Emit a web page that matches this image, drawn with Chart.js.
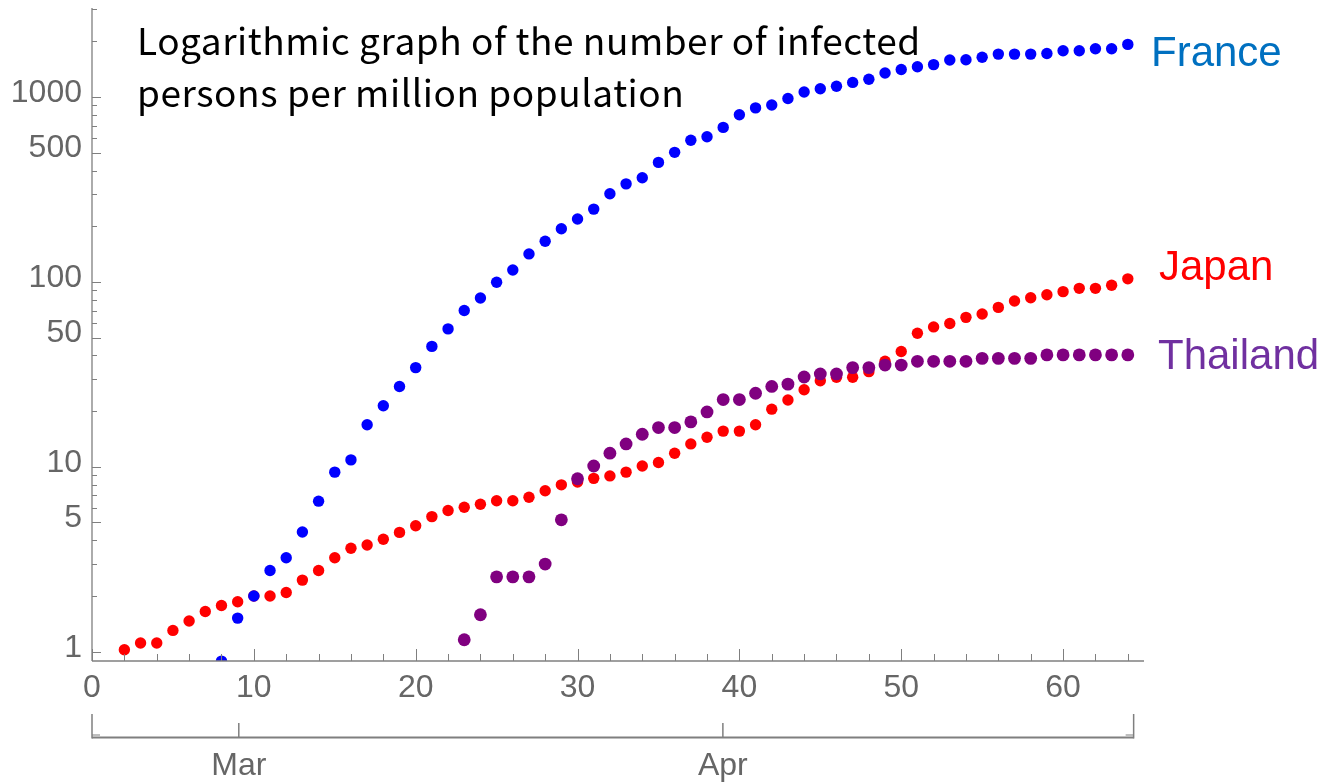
<!DOCTYPE html>
<html>
<head>
<meta charset="utf-8">
<script src="https://cdn.jsdelivr.net/npm/chart.js@4.4.1/dist/chart.umd.min.js"></script>
<style>
html,body{margin:0;padding:0;background:#ffffff;}
#wrap{position:relative;width:1328px;height:782px;}
</style>
</head>
<body>
<div id="wrap"><canvas id="c" width="1328" height="782"></canvas></div>
<script>
// ---------- data ----------
const titleLines = ["Logarithmic graph of the number of infected", "persons per million population"];
const seriesNames = ["France", "Japan", "Thailand"];

const franceStartDay = 8;
const franceValues = [0.89, 1.52, 2.0, 2.75, 3.22, 4.44, 6.52, 9.36, 10.9, 16.9,
  21.4, 27.2, 34.4, 44.8, 55.7, 70.0, 81.9, 99.6, 116, 141.7,
  166, 193.7, 219, 247.6, 300, 339, 366, 443, 502, 584,
  610, 685, 801, 873, 906, 982, 1065, 1109, 1143, 1199,
  1247, 1348, 1408, 1458, 1497, 1585, 1590, 1640, 1706, 1706,
  1706, 1720, 1778, 1778, 1823, 1823, 1925];

const japanStartDay = 2;
const japanValues = [1.025, 1.114, 1.114, 1.304, 1.465, 1.65, 1.78, 1.864, 2.0, 2.0,
  2.09, 2.44, 2.75, 3.22, 3.63, 3.78, 4.06, 4.42, 4.8, 5.38,
  5.8, 6.05, 6.28, 6.56, 6.56, 6.85, 7.43, 7.99, 8.27, 8.66,
  8.93, 9.36, 10.1, 10.55, 11.85, 13.3, 14.45, 15.6, 15.6, 16.9,
  20.5, 23.0, 26.1, 29.2, 30.5, 30.5, 32.7, 37.2, 42.0, 52.8,
  57.1, 59.6, 64.3, 67.1, 72.8, 78.9, 82.1, 85.3, 88.6, 92.3,
  92.3, 96.0, 103.9];

const thailandStartDay = 23;
const thailandValues = [1.161, 1.585, 2.54, 2.54, 2.54, 2.98, 5.17, 8.62, 10.1, 11.85,
  13.3, 15.0, 16.3, 16.3, 17.5, 19.8, 23.1, 23.1, 25.0, 27.2,
  28.0, 30.6, 31.8, 31.8, 34.4, 34.4, 35.5, 35.5, 37.2, 37.2,
  37.2, 37.2, 38.6, 38.6, 38.6, 38.6, 40.3, 40.3, 40.3, 40.3,
  40.3, 40.3];

const xTickValues = [0, 2, 4, 6, 8, 10, 12, 14, 16, 18, 20, 22, 24, 26, 28, 30, 32, 34, 36, 38,
  40, 42, 44, 46, 48, 50, 52, 54, 56, 58, 60, 62, 64];
const xTickLabels = [0, 10, 20, 30, 40, 50, 60];
const yTickValues = [1, 2, 3, 4, 5, 6, 7, 8, 9, 10, 20, 30, 40, 50, 60, 70, 80, 90,
  100, 200, 300, 400, 500, 600, 700, 800, 900, 1000, 2000, 3000];
const yTickLabels = [1, 5, 10, 50, 100, 500, 1000];
const dateTickDays = [9.07, 38.98];
const dateTickLabels = ["Mar", "Apr"];
const dateAxisRange = [0, 64.36];

const xRange = [0, 65];
const yRange = [0.891, 3029];

// ---------- build ----------
function toPoints(start, values) {
  return values.map((v, i) => ({ x: start + i, y: v }));
}

const GREY = '#7f7f7f';
const TICKFONT = '"Liberation Sans", Arial, sans-serif';

const decorPlugin = {
  id: 'decor',
  afterDatasetsDraw(chart) {
    const ctx = chart.ctx;
    const a = chart.chartArea;
    const xs = chart.scales.x, ys = chart.scales.y;
    const line = (x1, y1, x2, y2) => { ctx.beginPath(); ctx.moveTo(x1, y1); ctx.lineTo(x2, y2); ctx.stroke(); };
    ctx.save();
    ctx.strokeStyle = GREY;
    ctx.lineWidth = 1.3;
    // main axes
    line(a.left, a.top, a.left, a.bottom);
    line(a.left, a.bottom, a.right, a.bottom);
    ctx.lineWidth = 1;
    yTickValues.forEach(v => {
      const py = Math.round(ys.getPixelForValue(v)) + 0.5;
      const len = yTickLabels.includes(v) ? 9 : 5;
      line(a.left, py, a.left + len, py);
    });
    xTickValues.forEach(v => {
      const px = Math.round(xs.getPixelForValue(v)) + 0.5;
      const len = (v % 10 === 0) ? 12 : 7;
      line(px, a.bottom, px, a.bottom - len);
    });
    // date axis
    const dy = 737.5;
    const dl = xs.getPixelForValue(dateAxisRange[0]);
    const dr = xs.getPixelForValue(dateAxisRange[1]);
    ctx.lineWidth = 2;
    line(dl, dy, dr, dy);
    ctx.lineWidth = 1.5;
    line(dl, 714, dl, dy + 1);
    line(dr, 714, dr, dy + 1);
    ctx.lineWidth = 1;
    line(dl, 735, dl + 8, 735);
    line(dr - 8, 735, dr, 735);
    ctx.lineWidth = 1.5;
    ctx.fillStyle = '#666666';
    ctx.font = '32px ' + TICKFONT;
    ctx.textAlign = 'center';
    ctx.textBaseline = 'alphabetic';
    dateTickDays.forEach((d, i) => {
      const px = xs.getPixelForValue(d);
      line(px, 723, px, dy);
      ctx.fillText(dateTickLabels[i], px, 775);
    });
    ctx.restore();
  },
  afterDraw(chart) {
    const ctx = chart.ctx;
    ctx.save();
    // title
    ctx.fillStyle = '#000000';
    ctx.textAlign = 'left';
    ctx.textBaseline = 'alphabetic';
    ctx.font = '37px "Noto Sans CJK JP", "Noto Sans", sans-serif';
    const w = ctx.measureText(titleLines[0]).width;
    const target = 783;
    const ls = (target - w) / (titleLines[0].length - 1);
    try { ctx.letterSpacing = ls.toFixed(2) + 'px'; } catch (e) {}
    ctx.fillText(titleLines[0], 137, 55);
    ctx.fillText(titleLines[1], 137, 107);
    try { ctx.letterSpacing = '0px'; } catch (e) {}
    // series labels
    ctx.font = '42px ' + TICKFONT;
    ctx.fillStyle = '#0070C0';
    ctx.fillText(seriesNames[0], 1151, 66);
    ctx.fillStyle = '#FF0000';
    ctx.fillText(seriesNames[1], 1159, 280);
    ctx.fillStyle = '#7030A0';
    ctx.fillText(seriesNames[2], 1158, 369);
    ctx.restore();
  }
};

const chart = new Chart(document.getElementById('c'), {
  type: 'scatter',
  data: {
    datasets: [
      { label: seriesNames[0], data: toPoints(franceStartDay, franceValues), backgroundColor: '#0000FF',
        pointRadius: 5.7, pointBorderWidth: 0, clip: 0 },
      { label: seriesNames[2], data: toPoints(thailandStartDay, thailandValues), backgroundColor: '#800080',
        pointRadius: 6.4, pointBorderWidth: 0, clip: 0 },
      { label: seriesNames[1], data: toPoints(japanStartDay, japanValues), backgroundColor: '#FF0000',
        pointRadius: 5.7, pointBorderWidth: 0, clip: 0 }
    ]
  },
  options: {
    responsive: false,
    animation: false,
    events: [],
    layout: { padding: { left: 0, top: 8, right: 184, bottom: 0 } },
    plugins: { legend: { display: false }, tooltip: { enabled: false }, title: { display: false } },
    scales: {
      x: {
        type: 'linear', position: 'bottom', min: xRange[0], max: xRange[1], bounds: 'data',
        grid: { display: false, drawTicks: false },
        border: { display: false },
        afterBuildTicks: (s) => { s.ticks = xTickValues.map(v => ({ value: v })); },
        afterFit: (s) => { s.height = 121; s.paddingLeft = 0; s.paddingRight = 0; s.paddingTop = 0; s.paddingBottom = 0; },
        ticks: {
          autoSkip: false, maxRotation: 0, minRotation: 0, padding: 8,
          color: '#666666', font: { family: TICKFONT, size: 32 },
          callback: (v) => xTickLabels.includes(v) ? String(v) : ''
        }
      },
      y: {
        type: 'logarithmic', position: 'left', min: yRange[0], max: yRange[1], bounds: 'data',
        grid: { display: false, drawTicks: false },
        border: { display: false },
        afterBuildTicks: (s) => { s.ticks = yTickValues.map(v => ({ value: v })); },
        afterFit: (s) => { s.width = 92; s.paddingLeft = 0; s.paddingRight = 0; s.paddingTop = 0; s.paddingBottom = 0; },
        ticks: {
          autoSkip: false, padding: 10, labelOffset: -4,
          color: '#666666', font: { family: TICKFONT, size: 32 },
          callback: (v) => yTickLabels.includes(v) ? String(v) : ''
        }
      }
    }
  },
  plugins: [decorPlugin]
});
</script>
</body>
</html>
